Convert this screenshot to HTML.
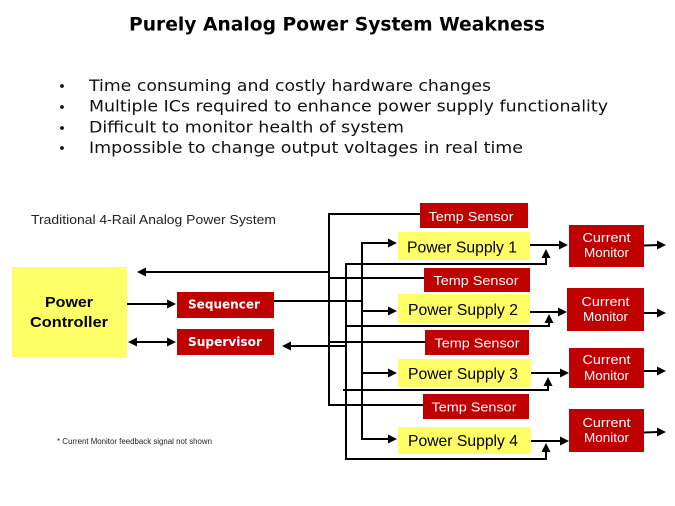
<!DOCTYPE html>
<html>
<head>
<meta charset="utf-8">
<style>
html,body{margin:0;padding:0;background:#fff;}
svg{display:block;}
</style>
</head>
<body>
<svg width="675" height="506" viewBox="0 0 675 506" xmlns="http://www.w3.org/2000/svg">
<rect width="675" height="506" fill="#fff"/>
<!-- Title -->
<text x="129" y="30.5" font-family="DejaVu Sans, Liberation Sans, sans-serif" font-weight="bold" font-size="19" textLength="416" lengthAdjust="spacingAndGlyphs" fill="#000">Purely Analog Power System Weakness</text>
<!-- Bullets -->
<g fill="#111">
<circle cx="62" cy="86" r="1.9"/>
<circle cx="62" cy="107" r="1.9"/>
<circle cx="62" cy="128" r="1.9"/>
<circle cx="62" cy="148" r="1.9"/>
</g>
<g font-family="DejaVu Sans, Liberation Sans, sans-serif" font-size="16" fill="#111">
<text x="89" y="91" textLength="402" lengthAdjust="spacingAndGlyphs">Time consuming and costly hardware changes</text>
<text x="89" y="111.5" textLength="519" lengthAdjust="spacingAndGlyphs">Multiple ICs required to enhance power supply functionality</text>
<text x="89" y="132.5" textLength="315" lengthAdjust="spacingAndGlyphs">Difficult to monitor health of system</text>
<text x="89" y="153" textLength="434" lengthAdjust="spacingAndGlyphs">Impossible to change output voltages in real time</text>
</g>
<!-- Diagram label -->
<text x="31" y="224" font-family="Liberation Sans, Arial, sans-serif" font-size="13" textLength="245" lengthAdjust="spacingAndGlyphs" fill="#222">Traditional 4-Rail Analog Power System</text>
<text x="57" y="444" font-family="Liberation Sans, Arial, sans-serif" font-size="8" textLength="155" lengthAdjust="spacingAndGlyphs" fill="#222">* Current Monitor feedback  signal not shown</text>

<!-- Connector lines -->
<g stroke="#000" stroke-width="2" fill="none">
<!-- V1 -->
<line x1="329" y1="213" x2="329" y2="406"/>
<line x1="328" y1="214" x2="420" y2="214"/>
<line x1="329" y1="272" x2="144" y2="272"/>
<line x1="329" y1="278" x2="424" y2="278"/>
<line x1="329" y1="342" x2="425" y2="342"/>
<line x1="328" y1="405" x2="423" y2="405"/>
<!-- V2 -->
<line x1="346" y1="263" x2="346" y2="460"/>
<polyline points="345,264 546,264 546,256"/>
<polyline points="345,326 549,326 549,322"/>
<polyline points="343,390 548,390 548,385"/>
<polyline points="345,459 546,459 546,451"/>
<line x1="346" y1="346" x2="288" y2="346"/>
<!-- V3 -->
<line x1="362" y1="242" x2="362" y2="440"/>
<line x1="361" y1="243" x2="390" y2="243"/>
<line x1="362" y1="311" x2="390" y2="311"/>
<line x1="362" y1="373" x2="390" y2="373"/>
<line x1="361" y1="439" x2="390" y2="439"/>
<!-- Sequencer out -->
<line x1="274" y1="301" x2="362" y2="301"/>
<!-- PC to Seq/Sup -->
<line x1="127" y1="304" x2="170" y2="304"/>
<line x1="134" y1="342" x2="170" y2="342"/>
<!-- PS to CM -->
<line x1="530" y1="245" x2="561" y2="245"/>
<line x1="530" y1="312" x2="560" y2="312"/>
<line x1="531" y1="373" x2="562" y2="373"/>
<line x1="531" y1="441" x2="562" y2="441"/>
<!-- CM out -->
<line x1="644" y1="245.5" x2="659" y2="245"/>
<line x1="644" y1="313" x2="659" y2="313"/>
<line x1="644" y1="371" x2="659" y2="371"/>
<line x1="644" y1="432.5" x2="659" y2="432"/>
</g>

<!-- Arrowheads -->
<g fill="#000">
<polygon points="137,272 146,267.5 146,276.5"/>
<polygon points="282,346 291,341.5 291,350.5"/>
<polygon points="397,243 388,238.5 388,247.5"/>
<polygon points="397,311 388,306.5 388,315.5"/>
<polygon points="397,373 388,368.5 388,377.5"/>
<polygon points="397,439 388,434.5 388,443.5"/>
<polygon points="176,304 167,299.5 167,308.5"/>
<polygon points="176,342 167,337.5 167,346.5"/>
<polygon points="128,342 137,337.5 137,346.5"/>
<polygon points="546,249 541.5,258 550.5,258"/>
<polygon points="549,314 544.5,323 553.5,323"/>
<polygon points="548,377 543.5,386 552.5,386"/>
<polygon points="546,443 541.5,452 550.5,452"/>
<polygon points="568,245 559,240.5 559,249.5"/>
<polygon points="567,312 558,307.5 558,316.5"/>
<polygon points="569,373 560,368.5 560,377.5"/>
<polygon points="569,441 560,436.5 560,445.5"/>
<polygon points="666,245 657,240.5 657,249.5"/>
<polygon points="666,313 657,308.5 657,317.5"/>
<polygon points="666,371 657,366.5 657,375.5"/>
<polygon points="666,432 657,427.5 657,436.5"/>
</g>

<!-- Boxes -->
<g fill="#FFFF66">
<rect x="12" y="267" width="115" height="90"/>
<rect x="398" y="232" width="132" height="28"/>
<rect x="398" y="294" width="132" height="29"/>
<rect x="398" y="359" width="133" height="28"/>
<rect x="398" y="427" width="133" height="27"/>
</g>
<g fill="#C00000">
<rect x="177" y="292" width="97" height="26"/>
<rect x="177" y="329" width="97" height="26"/>
<rect x="420" y="203" width="108" height="25"/>
<rect x="424" y="268" width="106" height="24"/>
<rect x="425" y="330" width="104" height="25"/>
<rect x="423" y="394" width="106" height="25"/>
<rect x="569" y="225" width="75" height="42"/>
<rect x="567" y="288" width="77" height="43"/>
<rect x="569" y="348" width="75" height="40"/>
<rect x="569" y="409" width="75" height="43"/>
</g>

<!-- Box text -->
<g font-family="Liberation Sans, Arial, sans-serif" font-weight="bold" font-size="15" fill="#000" text-anchor="middle">
<text x="69" y="307" textLength="48" lengthAdjust="spacingAndGlyphs">Power</text>
<text x="69" y="327" textLength="78" lengthAdjust="spacingAndGlyphs">Controller</text>
</g>
<g font-family="DejaVu Sans, Liberation Sans, sans-serif" font-weight="bold" font-size="12.5" fill="#fff">
<text x="188" y="308.5" textLength="72" lengthAdjust="spacingAndGlyphs">Sequencer</text>
<text x="188" y="346" textLength="74" lengthAdjust="spacingAndGlyphs">Supervisor</text>
</g>
<g font-family="Liberation Sans, Arial, sans-serif" font-size="13" fill="#fff" text-anchor="middle">
<text x="471" y="221" textLength="85" lengthAdjust="spacingAndGlyphs">Temp Sensor</text>
<text x="476" y="285" textLength="85" lengthAdjust="spacingAndGlyphs">Temp Sensor</text>
<text x="477" y="347.5" textLength="85" lengthAdjust="spacingAndGlyphs">Temp Sensor</text>
<text x="474" y="411.5" textLength="85" lengthAdjust="spacingAndGlyphs">Temp Sensor</text>
<text x="606.5" y="242" textLength="48" lengthAdjust="spacingAndGlyphs">Current</text>
<text x="606.5" y="257" textLength="45" lengthAdjust="spacingAndGlyphs">Monitor</text>
<text x="605.5" y="306" textLength="48" lengthAdjust="spacingAndGlyphs">Current</text>
<text x="605.5" y="321" textLength="45" lengthAdjust="spacingAndGlyphs">Monitor</text>
<text x="606.5" y="364" textLength="48" lengthAdjust="spacingAndGlyphs">Current</text>
<text x="606.5" y="380" textLength="45" lengthAdjust="spacingAndGlyphs">Monitor</text>
<text x="606.5" y="427" textLength="48" lengthAdjust="spacingAndGlyphs">Current</text>
<text x="606.5" y="442" textLength="45" lengthAdjust="spacingAndGlyphs">Monitor</text>
</g>
<g font-family="Liberation Sans, Arial, sans-serif" font-size="16" fill="#000" text-anchor="middle">
<text x="462" y="252.5" textLength="110" lengthAdjust="spacingAndGlyphs">Power Supply 1</text>
<text x="463" y="315" textLength="110" lengthAdjust="spacingAndGlyphs">Power Supply 2</text>
<text x="463" y="379" textLength="110" lengthAdjust="spacingAndGlyphs">Power Supply 3</text>
<text x="463" y="446" textLength="110" lengthAdjust="spacingAndGlyphs">Power Supply 4</text>
</g>
</svg>
</body>
</html>
